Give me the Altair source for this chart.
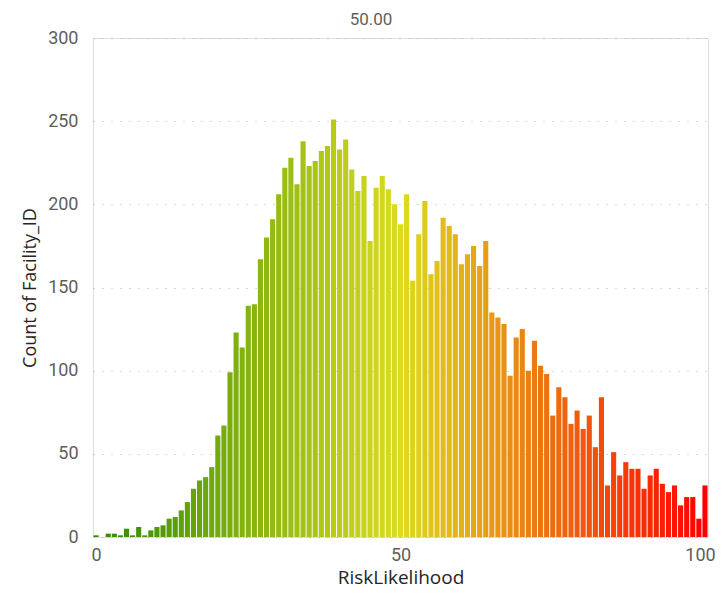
import altair as alt
import pandas as pd

risk_likelihood = list(range(0, 101))
facility_counts = [
    1, 0, 2, 2, 1, 5, 1, 6, 1, 4,
    6, 7, 11, 12, 16, 21, 29, 34, 36, 42,
    61, 67, 99, 123, 114, 139, 140, 167, 180, 191,
    206, 222, 228, 212, 238, 223, 226, 232, 235, 251,
    233, 239, 221, 208, 217, 178, 210, 217, 209, 200,
    188, 206, 154, 182, 202, 158, 166, 192, 187, 182,
    164, 170, 175, 163, 178, 135, 132, 128, 97, 120,
    125, 100, 118, 103, 98, 73, 90, 84, 68, 76,
    65, 73, 54, 84, 31, 51, 37, 45, 41, 41,
    29, 37, 41, 32, 27, 31, 19, 24, 24, 11,
    31,
]
x_ticks = [0, 50, 100]
y_ticks = [0, 50, 100, 150, 200, 250, 300]
color_stops = [0, 50, 100]
color_range = ["#2d8a00", "#dcdc1e", "#ff0000"]
ref_label = "50.00"

df = pd.DataFrame({"RiskLikelihood": risk_likelihood, "Count": facility_counts})

TICK_FONT = "Roboto, sans-serif"
TITLE_FONT = "Open Sans, Noto Sans, sans-serif"

bars = (
    alt.Chart(df)
    .transform_calculate(x_lo="datum.RiskLikelihood - 0.42", x_hi="datum.RiskLikelihood + 0.42")
    .mark_bar()
    .encode(
        x=alt.X(
            "x_lo:Q",
            scale=alt.Scale(domain=[-0.5, 100.5], nice=False, zero=False),
            axis=alt.Axis(
                values=x_ticks,
                format="d",
                grid=False,
                domain=False,
                ticks=False,
                labelFont=TICK_FONT,
                labelFontSize=18,
                labelColor="#605e5c",
                labelPadding=9,
                labelBaseline="top",
                labelOffset={"condition": {"test": "datum.value == 100", "value": -5}, "value": 0},
                title="RiskLikelihood",
                titleFont=TITLE_FONT,
                titleFontSize=19,
                titleFontWeight="normal",
                titleColor="#252423",
                titleX=307.5,
                titleY=46,
                titleBaseline="alphabetic",
                titleAlign="center",
            ),
        ),
        x2="x_hi:Q",
        y=alt.Y(
            "Count:Q",
            scale=alt.Scale(domain=[0, 300], nice=False),
            axis=alt.Axis(
                values=y_ticks,
                grid=True,
                gridDash=[1, 8],
                gridColor="#b0aeac",
                gridWidth=1,
                domain=False,
                ticks=False,
                labelFont=TICK_FONT,
                labelFontSize=18,
                labelColor="#605e5c",
                labelPadding=15,
                title="Count of Facility_ID",
                titleFont=TITLE_FONT,
                titleFontSize=18,
                titleFontWeight="normal",
                titleColor="#252423",
                titleX=-63,
                titleY=249.5,
                titleAngle=270,
                titleBaseline="middle",
                titleAlign="center",
            ),
        ),
        y2=alt.datum(0),
        color=alt.Color(
            "RiskLikelihood:Q",
            scale=alt.Scale(domain=color_stops, range=color_range, interpolate="rgb"),
            legend=None,
        ),
    )
)

label = alt.Chart(pd.DataFrame({"t": [ref_label]})).mark_text(
    font=TICK_FONT, fontSize=17, color="#605e5c", baseline="alphabetic", align="center"
).encode(text="t:N", x=alt.value(278), y=alt.value(-13))

chart = (
    alt.layer(bars, label)
    .properties(
        width=615,
        height=499,
        autosize=alt.AutoSizeParams(type="none"),
        padding={"left": 85, "top": 30, "right": 7, "bottom": 52},
    )
    .configure_view(strokeWidth=0, stroke="transparent")
    .configure(background="#ffffff")
)

chart.save("out.html", embed_options={"renderer": "svg", "actions": False})
